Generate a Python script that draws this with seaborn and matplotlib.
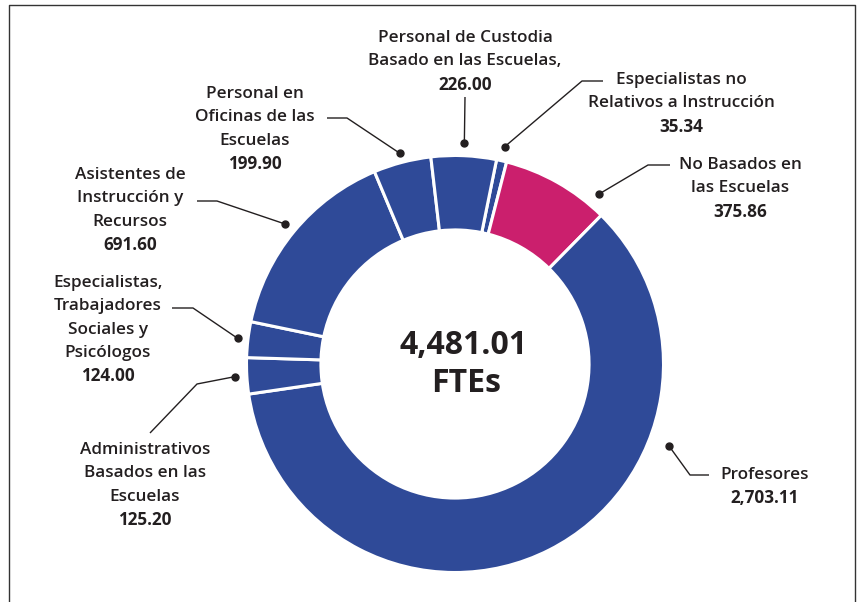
import numpy as np
import matplotlib
matplotlib.use("Agg")
import matplotlib.pyplot as plt
import seaborn as sns

# Chart data (clockwise from the small wedge near the top)
categories = [
    "Especialistas no Relativos a Instrucción",
    "No Basados en las Escuelas",
    "Profesores",
    "Administrativos Basados en las Escuelas",
    "Especialistas, Trabajadores Sociales y Psicólogos",
    "Asistentes de Instrucción y Recursos",
    "Personal en Oficinas de las Escuelas",
    "Personal de Custodia Basado en las Escuelas",
]
values = [35.34, 375.86, 2703.11, 125.20, 124.00, 691.60, 199.90, 226.00]
value_labels = ["35.34", "375.86", "2,703.11", "125.20", "124.00", "691.60", "199.90", "226.00"]
label_lines = [
    ["Especialistas no", "Relativos a Instrucción"],
    ["No Basados en", "las Escuelas"],
    ["Profesores"],
    ["Administrativos", "Basados en las", "Escuelas"],
    ["Especialistas,", "Trabajadores", "Sociales y", "Psicólogos"],
    ["Asistentes de", "Instrucción y", "Recursos"],
    ["Personal en", "Oficinas de las", "Escuelas"],
    ["Personal de Custodia", "Basado en las Escuelas,"],
]
total_text = ["4,481.01", "FTEs"]

BLUE = "#2f4a98"
MAGENTA = "#cb1f6d"
TEXT = "#231f20"
colors = [BLUE, MAGENTA, BLUE, BLUE, BLUE, BLUE, BLUE, BLUE]

# Layout (pixel coordinates, y pointing down)
W, H = 858, 602
CX, CY, R = 455, 364, 208.5
RING = 0.357
START = 11.5  # degrees clockwise from 12 o'clock

# where along each wedge the leader dot sits (0 = start, 1 = end)
dot_frac = [0.5, 0.86, 0.306, 0.5, 0.5, 0.5, 0.5, 0.5]
dot_rad = [1.07, 1.07, 1.10, 1.055, 1.05, 1.055, 1.045, 1.06]
# text block position: (center x, first line y)
text_pos = [(681, 80), (740, 165), (765, 475), (145, 450),
            (108, 283), (130, 175), (255, 94), (465, 38)]
# leader path after the dot
leader_path = [
    [(582, 81), (603, 81)],
    [(648, 165), (670, 165)],
    [(690, 475), (709, 475)],
    [(197, 384), (150, 433)],
    [(193, 308), (172, 308)],
    [(217, 201), (197, 201)],
    [(347, 118), (327, 118)],
    [(465, 97)],
]


def draw_donut(ax):
    """
    Draw the ring and return the wedge angles (clockwise from top)
    """
    # y axis is inverted, so counterclockwise in data = clockwise on screen
    ax.pie(values, colors=colors, startangle=START - 90, counterclock=True,
           center=(CX, CY), radius=R,
           wedgeprops=dict(width=R * RING, edgecolor="white", linewidth=2.2))
    fr = np.array(values) / np.sum(values)
    ends = START + np.cumsum(fr) * 360
    starts = ends - fr * 360
    return starts, ends


def draw_labels(ax, starts, ends):
    """
    Leader lines with dots plus the labels
    """
    for i in range(len(values)):
        th = np.radians(starts[i] + dot_frac[i] * (ends[i] - starts[i]))
        dx = CX + R * dot_rad[i] * np.sin(th)
        dy = CY - R * dot_rad[i] * np.cos(th)
        pts = [(dx, dy)] + leader_path[i]
        ax.plot([p[0] for p in pts], [p[1] for p in pts], color=TEXT, lw=1.0,
                solid_capstyle="butt", zorder=3)
        ax.plot(dx, dy, "o", color=TEXT, ms=5, zorder=4)

        x0, y0 = text_pos[i]
        lines = label_lines[i] + [value_labels[i]]
        for k, line in enumerate(lines):
            bold = k == len(lines) - 1
            ax.text(x0, y0 + k * 23.3, line, ha="center", va="center",
                    fontsize=12.3, color=TEXT,
                    fontweight="bold" if bold else "semibold")


def main():
    sns.set_theme(style="white")
    plt.rcParams["font.family"] = ["Open Sans", "DejaVu Sans"]

    fig = plt.figure(figsize=(W / 100, H / 100), dpi=100)
    ax = fig.add_axes([0, 0, 1, 1])

    starts, ends = draw_donut(ax)
    draw_labels(ax, starts, ends)

    ax.text(463, 345, total_text[0], ha="center", va="center",
            fontsize=23, fontweight="bold", color=TEXT)
    ax.text(466, 383, total_text[1], ha="center", va="center",
            fontsize=23, fontweight="bold", color=TEXT)

    # thin frame around the graphic
    ax.plot([9, 9, 855, 855], [H + 5, 5, 5, H + 5], color="#333333", lw=1.0)

    ax.set_xlim(0, W)
    ax.set_ylim(H, 0)
    ax.set_aspect("equal")
    ax.axis("off")
    fig.savefig("out.png", dpi=100, facecolor="white")
    plt.close(fig)


if __name__ == "__main__":
    main()
